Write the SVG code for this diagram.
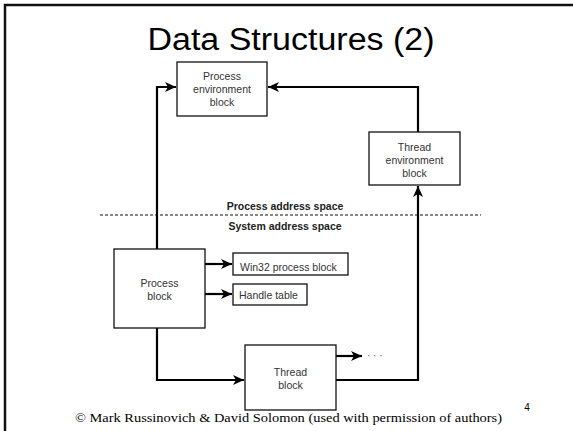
<svg xmlns="http://www.w3.org/2000/svg" width="573" height="431" viewBox="0 0 573 431">
<style>
.box{fill:#fff;stroke:#111;stroke-width:1.3}
.bt{font-family:"Liberation Sans",Arial,sans-serif;font-size:10.5px;fill:#333;text-anchor:middle}
.lt{font-family:"Liberation Sans",Arial,sans-serif;font-size:10.5px;fill:#333}
.lbl{font-family:"Liberation Sans",Arial,sans-serif;font-size:10.5px;font-weight:bold;fill:#222;text-anchor:middle}
.wire{fill:none;stroke:#000;stroke-width:2.2}
</style>
<defs>
<marker id="ah" markerWidth="12" markerHeight="10" refX="11" refY="5" orient="auto" markerUnits="userSpaceOnUse">
<path d="M0,0 L11,5 L0,10 L3,5 Z" fill="#000"/>
</marker>
</defs>
<rect width="573" height="431" fill="#fff"/>
<path d="M5,431 V5 H573" fill="none" stroke="#111" stroke-width="2.5"/>
<text x="291" y="50" font-family="'Liberation Sans',Arial,sans-serif" font-size="31" text-anchor="middle" textLength="287" lengthAdjust="spacingAndGlyphs" fill="#000">Data Structures (2)</text>

<g id="connectors">
<path class="wire" d="M157,249 V87 H176" marker-end="url(#ah)"/>
<path class="wire" d="M418,132 V87 H268" marker-end="url(#ah)"/>
<path class="wire" d="M336,380 H418 V186" marker-end="url(#ah)"/>
<path class="wire" d="M157,328 V380 H244" marker-end="url(#ah)"/>
<path class="wire" d="M205,264 H232" marker-end="url(#ah)"/>
<path class="wire" d="M205,294 H232" marker-end="url(#ah)"/>
<path class="wire" d="M336,356 H362" marker-end="url(#ah)"/>
</g>

<g id="address-boundary">
<line x1="100" y1="215" x2="481" y2="215" stroke="#111" stroke-width="1.2" stroke-dasharray="3,2"/>
<text class="lbl" x="285" y="210">Process address space</text>
<text class="lbl" x="285" y="230">System address space</text>
</g>

<g id="peb">
<rect class="box" x="177" y="62" width="90" height="54"/>
<text class="bt" x="222" y="80">Process</text>
<text class="bt" x="222" y="93">environment</text>
<text class="bt" x="222" y="106">block</text>
</g>

<g id="teb">
<rect class="box" x="369" y="132" width="91" height="53"/>
<text class="bt" x="414.5" y="151">Thread</text>
<text class="bt" x="414.5" y="164">environment</text>
<text class="bt" x="414.5" y="177">block</text>
</g>

<g id="process-block">
<rect class="box" x="114" y="249" width="91" height="79"/>
<text class="bt" x="159.5" y="287">Process</text>
<text class="bt" x="159.5" y="300">block</text>
</g>

<g id="win32-process-block">
<rect class="box" x="233" y="253" width="115" height="22"/>
<text class="lt" x="240" y="271">Win32 process block</text>
</g>

<g id="handle-table">
<rect class="box" x="233" y="284" width="74" height="21"/>
<text class="lt" x="239" y="299">Handle table</text>
</g>

<g id="thread-block">
<rect class="box" x="245" y="345" width="91" height="65"/>
<text class="bt" x="290.5" y="376">Thread</text>
<text class="bt" x="290.5" y="389">block</text>
</g>

<g id="ellipsis">
<text x="367" y="359" font-family="'Liberation Sans',Arial,sans-serif" font-size="10" fill="#555">· · ·</text>
</g>

<text x="527" y="411" font-family="'Liberation Sans',Arial,sans-serif" font-size="10" text-anchor="middle" fill="#000">4</text>
<text x="288.5" y="422" font-family="'Liberation Serif','Times New Roman',serif" font-size="13" text-anchor="middle" textLength="427" lengthAdjust="spacingAndGlyphs" fill="#000">© Mark Russinovich &amp; David Solomon (used with permission of authors)</text>
</svg>
